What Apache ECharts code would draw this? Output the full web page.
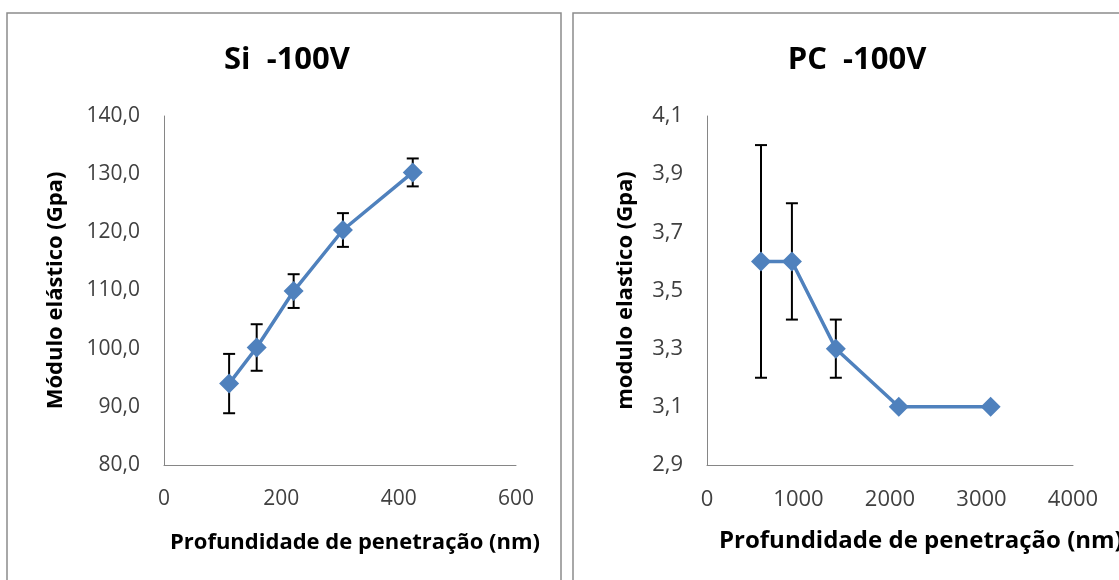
<!DOCTYPE html>
<html><head><meta charset="utf-8">
<script src="https://cdn.jsdelivr.net/npm/echarts@6/dist/echarts.min.js"></script>
<style>html,body{margin:0;padding:0;background:#fff}#c{width:1119px;height:580px}</style>
</head><body><div id="c"></div>
<script>
// Left chart: Si -100V
const siDepth = [111, 158, 221, 305, 424];
const siModulus = [94.0, 100.2, 109.9, 120.4, 130.3];
const siErr = [5.1, 4.0, 2.9, 2.9, 2.4];
// Right chart: PC -100V
const pcDepth = [590, 928, 1408, 2096, 3100];
const pcModulus = [3.6, 3.6, 3.3, 3.1, 3.1];
const pcErr = [0.4, 0.2, 0.1, 0, 0];

const FONT = '"Open Sans", "DejaVu Sans", sans-serif';
const blue = '#4F81BD';
const axisGrey = '#868686';
const labelColor = '#404040';

function errSeries(xIdx, yIdx, xs, ys, es) {
  return {
    type: 'custom', xAxisIndex: xIdx, yAxisIndex: yIdx, z: 1,
    data: xs.map((x, i) => [x, ys[i] - es[i], ys[i] + es[i]]),
    renderItem: function (params, api) {
      if (api.value(2) - api.value(1) <= 0) return null;
      const lo = api.coord([api.value(0), api.value(1)]);
      const hi = api.coord([api.value(0), api.value(2)]);
      const w = 6;
      const st = { stroke: '#000', lineWidth: 2 };
      return { type: 'group', children: [
        { type: 'line', shape: { x1: lo[0], y1: lo[1], x2: hi[0], y2: hi[1] }, style: st },
        { type: 'line', shape: { x1: lo[0] - w, y1: lo[1], x2: lo[0] + w, y2: lo[1] }, style: st },
        { type: 'line', shape: { x1: hi[0] - w, y1: hi[1], x2: hi[0] + w, y2: hi[1] }, style: st }
      ]};
    }
  };
}

function xAxis(grid, max, interval, fs) {
  return {
    type: 'value', gridIndex: grid, min: 0, max: max, interval: interval,
    axisLine: { show: true, lineStyle: { color: axisGrey, width: 1 } },
    axisTick: { show: false }, splitLine: { show: false },
    axisLabel: { color: labelColor, fontSize: fs, fontFamily: FONT, margin: 24,
      formatter: v => String(v) }
  };
}
function yAxis(grid, min, max, interval, name, gap, fs, nfs) {
  return {
    type: 'value', gridIndex: grid, min: min, max: max, interval: interval,
    axisLine: { show: true, lineStyle: { color: axisGrey, width: 1 } },
    axisTick: { show: false }, splitLine: { show: false },
    axisLabel: { color: labelColor, fontSize: fs, fontFamily: FONT, margin: 24,
      formatter: v => v.toFixed(1).replace('.', ',') },
    name: name, nameLocation: 'middle', nameGap: gap, nameRotate: 90,
    nameTextStyle: { color: '#000', fontSize: nfs, fontWeight: 'bold', fontFamily: FONT }
  };
}

const chart = echarts.init(document.getElementById('c'), null, { renderer: 'canvas' });
chart.setOption({
  animation: false,
  backgroundColor: '#fff',
  title: [
    { text: 'Si  -100V', left: 282, top: 40, textAlign: 'center',
      textStyle: { fontSize: 31, fontWeight: 'bold', fontFamily: FONT, color: '#000' } },
    { text: 'PC  -100V', left: 852, top: 40, textAlign: 'center',
      textStyle: { fontSize: 31, fontWeight: 'bold', fontFamily: FONT, color: '#000' } }
  ],
  graphic: [
    { type: 'rect', shape: { x: 7, y: 13, width: 554, height: 600 }, style: { fill: 'none', stroke: '#8c8c8c', lineWidth: 1.5 }, z: -1 },
    { type: 'rect', shape: { x: 573, y: 13, width: 600, height: 600 }, style: { fill: 'none', stroke: '#8c8c8c', lineWidth: 1.5 }, z: -1 },
    { type: 'text', x: 355, y: 543, style: { text: 'Profundidade de penetração (nm)', fontSize: 22, fontWeight: 'bold', fontFamily: FONT, fill: '#000', textAlign: 'center', textVerticalAlign: 'middle' } },
    { type: 'text', x: 719, y: 541, style: { text: 'Profundidade de penetração (nm)', fontSize: 24, fontWeight: 'bold', fontFamily: FONT, fill: '#000', textAlign: 'left', textVerticalAlign: 'middle' } }
  ],
  grid: [
    { left: 164, top: 116, width: 352, height: 349 },
    { left: 707, top: 116, width: 366, height: 349 }
  ],
  xAxis: [ xAxis(0, 600, 200, 21), xAxis(1, 4000, 1000, 22) ],
  yAxis: [
    yAxis(0, 80, 140, 10, 'Módulo elástico (Gpa)', 97, 21, 22),
    yAxis(1, 2.9, 4.1, 0.2, 'modulo elastico (Gpa)', 70, 22, 22)
  ],
  series: [
    errSeries(0, 0, siDepth, siModulus, siErr),
    errSeries(1, 1, pcDepth, pcModulus, pcErr),
    { type: 'line', xAxisIndex: 0, yAxisIndex: 0, z: 3,
      data: siDepth.map((x, i) => [x, siModulus[i]]),
      symbol: 'diamond', symbolSize: 20, lineStyle: { color: blue, width: 3.5 },
      itemStyle: { color: blue } },
    { type: 'line', xAxisIndex: 1, yAxisIndex: 1, z: 3,
      data: pcDepth.map((x, i) => [x, pcModulus[i]]),
      symbol: 'diamond', symbolSize: 20, lineStyle: { color: blue, width: 3.5 },
      itemStyle: { color: blue } }
  ]
});
</script></body></html>
